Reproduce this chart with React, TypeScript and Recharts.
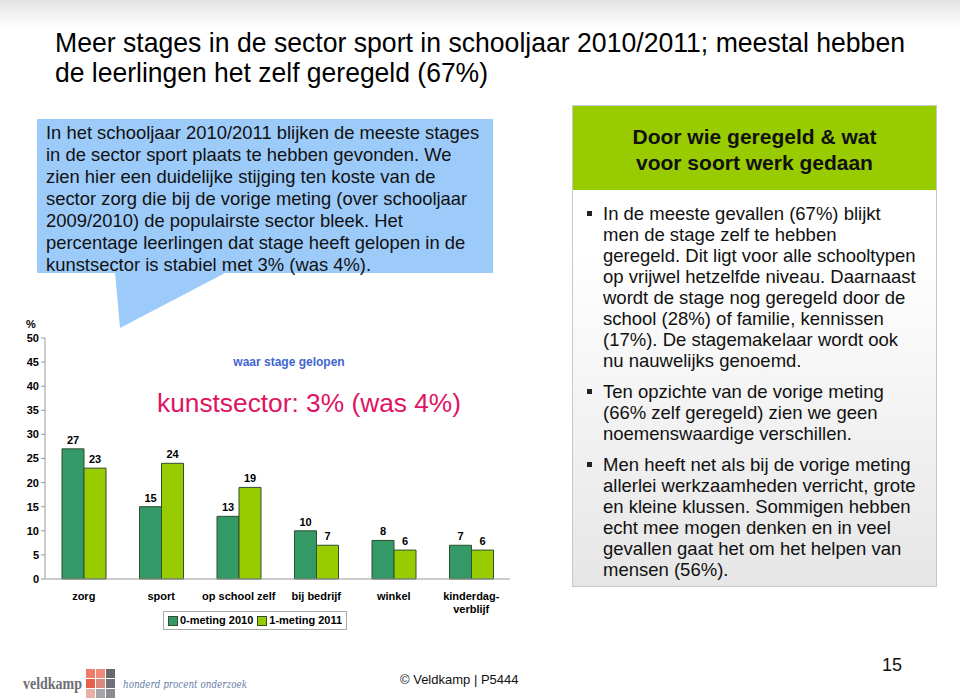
import { BarChart, Bar, XAxis, YAxis, LabelList, Legend } from "recharts"

const categories = ["zorg", "sport", "op school zelf", "bij bedrijf", "winkel", "kinderdag-\nverblijf"]
const meting2010 = [27, 15, 13, 10, 8, 7]
const meting2011 = [23, 24, 19, 7, 6, 6]
const seriesNames = ["0-meting 2010", "1-meting 2011"]
const yTicks = [0, 5, 10, 15, 20, 25, 30, 35, 40, 45, 50]
const boundaryTicks = [0, 1, 2, 3, 4, 5, 6]

const DARK = "#339966"
const LIGHT = "#99cc00"
const FONT = "'Liberation Sans', Arial, sans-serif"

const data = categories.map((c, i) => ({ name: c, idx: i + 0.5, m2010: meting2010[i], m2011: meting2011[i] }))

function CatTick(props: any) {
  const { x, y, payload } = props
  const lines = String(payload.value).split("\n")
  return (
    <text x={x} y={y + 13} textAnchor="middle" fontFamily={FONT} fontSize={11} fontWeight="bold" fill="#000">
      {lines.map((l, i) => (
        <tspan key={i} x={x} dy={i === 0 ? 0 : 13}>{l}</tspan>
      ))}
    </text>
  )
}

function LegendBox() {
  const cols = [DARK, LIGHT]
  return (
    <div style={{ display: "flex", justifyContent: "center" }}>
      <div style={{ border: "1px solid #aaa", padding: "1px 4px", display: "flex", gap: 4, fontFamily: FONT, fontSize: 11, fontWeight: "bold", lineHeight: "15px" }}>
        {seriesNames.map((n, i) => (
          <span key={n} style={{ display: "flex", alignItems: "center" }}>
            <span style={{ width: 8, height: 8, background: cols[i], border: "1px solid #2f4f2f", marginRight: 2 }} />
            {n}
          </span>
        ))}
      </div>
    </div>
  )
}

const titleLines = ["Meer stages in de sector sport in schooljaar 2010/2011; meestal hebben", "de leerlingen het zelf geregeld (67%)"]

const calloutLines = [
  "In het schooljaar 2010/2011 blijken de meeste stages",
  "in de sector sport plaats te hebben gevonden. We",
  "zien hier een duidelijke stijging ten koste van de",
  "sector zorg die bij de vorige meting (over schooljaar",
  "2009/2010) de populairste sector bleek. Het",
  "percentage leerlingen dat stage heeft gelopen in de",
  "kunstsector is stabiel met 3% (was 4%).",
]

const bullets = [
  ["In de meeste gevallen (67%) blijkt", "men de stage zelf te hebben", "geregeld. Dit ligt voor alle schooltypen", "op vrijwel hetzelfde niveau. Daarnaast", "wordt de stage nog geregeld door de", "school (28%) of familie, kennissen", "(17%). De stagemakelaar wordt ook", "nu nauwelijks genoemd."],
  ["Ten opzichte van de vorige meting", "(66% zelf geregeld) zien we geen", "noemenswaardige verschillen."],
  ["Men heeft net als bij de vorige meting", "allerlei werkzaamheden verricht, grote", "en kleine klussen. Sommigen hebben", "echt mee mogen denken en in veel", "gevallen gaat het om het helpen van", "mensen (56%)."],
]

const logoColors = ["#ef7b6b", "#f08a7a", "#666a70", "#e8604c", "#d98a80", "#6d7075", "#e9b0a8", "#a4a6aa", "#8a8c90"]

export default function App() {
  return (
    <div style={{ position: "absolute", left: 0, top: 0, width: 960, height: 700, background: "linear-gradient(#e4e4e4 0px, #ffffff 28px)", overflow: "hidden", fontFamily: FONT }}>
      <svg style={{ position: "absolute", left: 0, top: 0 }} width={960} height={700}>
        <text x={55} y={52} fontFamily={FONT} fontSize={28} textLength={850} lengthAdjust="spacingAndGlyphs" fill="#000">{titleLines[0]}</text>
        <text x={55} y={82} fontFamily={FONT} fontSize={28} textLength={433} lengthAdjust="spacingAndGlyphs" fill="#000">{titleLines[1]}</text>
        <rect x={37} y={119} width={456} height={154} fill="#9dcbf9" />
        <polygon points="115,272 227,272 120,328" fill="#9dcbf9" />
        <text x={23} y={689} fontFamily="'Liberation Serif', serif" fontSize={16} fontWeight="bold" textLength={59} lengthAdjust="spacingAndGlyphs" fill="#6b6e73">veldkamp</text>
        <text x={123} y={688} fontFamily="'DejaVu Serif', serif" fontStyle="italic" fontSize={11} textLength={124} lengthAdjust="spacingAndGlyphs" fill="#6a80a8">honderd procent onderzoek</text>
      </svg>
      <div style={{ position: "absolute", left: 46, top: 122, fontSize: 18.4, lineHeight: "22px", color: "#111", whiteSpace: "nowrap" }}>
        {calloutLines.map((l) => (
          <div key={l}>{l}</div>
        ))}
      </div>

      <div style={{ position: "absolute", left: 26, top: 318, fontSize: 11, fontWeight: "bold" }}>%</div>
      <div style={{ position: "absolute", left: 178, width: 222, textAlign: "center", top: 355, fontSize: 12, fontWeight: "bold", color: "#3f66d0" }}>waar stage gelopen</div>
      <div style={{ position: "absolute", left: 157, top: 388, fontSize: 26.3, color: "#dd1463", whiteSpace: "nowrap" }}>kunstsector: 3% (was 4%)</div>

      <div style={{ position: "absolute", left: 0, top: 300 }}>
        <BarChart width={560} height={340} data={data} margin={{ top: 38, right: 50, bottom: 9, left: 0 }} barGap={0} barSize={22}>
          <XAxis dataKey="name" xAxisId="cat" tick={<CatTick />} tickLine={false} axisLine={{ stroke: "#999" }} interval={0} height={32} />
          <XAxis dataKey="idx" xAxisId="edge" type="number" domain={[0, 6]} ticks={boundaryTicks} tick={false} axisLine={false} tickLine={{ stroke: "#999" }} tickSize={4} height={0} />
          <YAxis domain={[0, 50]} ticks={yTicks} width={45} axisLine={{ stroke: "#999" }} tickLine={{ stroke: "#999" }} tickSize={4} interval={0} tick={{ fontFamily: FONT, fontSize: 11, fontWeight: "bold", fill: "#000" }} />
          <Legend verticalAlign="bottom" height={20} content={<LegendBox />} />
          <Bar xAxisId="cat" dataKey="m2010" name={seriesNames[0]} fill={DARK} stroke="#2f4f2f" strokeWidth={1} isAnimationActive={false}>
            <LabelList dataKey="m2010" position="top" offset={5} style={{ fontFamily: FONT, fontSize: 11, fontWeight: "bold", fill: "#000" }} />
          </Bar>
          <Bar xAxisId="cat" dataKey="m2011" name={seriesNames[1]} fill={LIGHT} stroke="#2f4f2f" strokeWidth={1} isAnimationActive={false}>
            <LabelList dataKey="m2011" position="top" offset={5} style={{ fontFamily: FONT, fontSize: 11, fontWeight: "bold", fill: "#000" }} />
          </Bar>
        </BarChart>
      </div>

      <div style={{ position: "absolute", left: 572, top: 105, width: 363, height: 480, border: "1px solid #c8c8c8", background: "linear-gradient(#ffffff 30%, #e6e6e6)" }}>
        <div style={{ height: 84, background: "#99cc00", display: "flex", alignItems: "center", justifyContent: "center", textAlign: "center", fontSize: 21, fontWeight: "bold", lineHeight: "26px", color: "#111", paddingTop: 3, boxSizing: "border-box" }}>
          Door wie geregeld &amp; wat
          <br />
          voor soort werk gedaan
        </div>
        <div style={{ position: "absolute", left: 30, top: 97, fontSize: 18.5, lineHeight: "21px", color: "#111", whiteSpace: "nowrap" }}>
          {bullets.map((b, i) => (
            <div key={i} style={{ position: "relative", marginBottom: 10 }}>
              <span style={{ position: "absolute", left: -16, top: 8, width: 5, height: 5, background: "#222" }} />
              {b.map((l) => (
                <div key={l}>{l}</div>
              ))}
            </div>
          ))}
        </div>
      </div>

      <div style={{ position: "absolute", left: 86, top: 669, width: 30, display: "flex", flexWrap: "wrap", gap: 1 }}>
        {logoColors.map((c, i) => (
          <div key={i} style={{ width: 9, height: 9, background: c }} />
        ))}
      </div>
      <div style={{ position: "absolute", left: 400, top: 672, fontSize: 13, color: "#111" }}>© Veldkamp | P5444</div>
      <div style={{ position: "absolute", left: 882, top: 655, fontSize: 18, color: "#111" }}>15</div>
    </div>
  )
}
